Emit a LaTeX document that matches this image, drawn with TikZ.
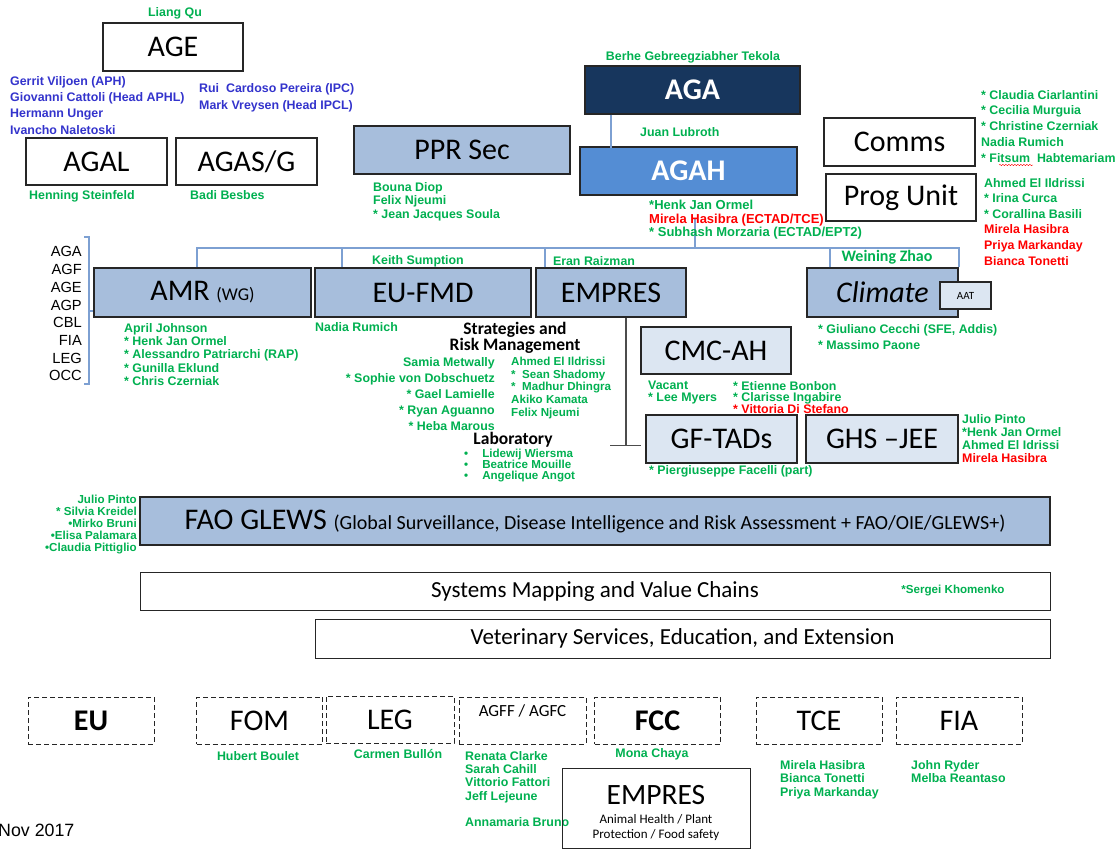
\documentclass[tikz,border=0pt]{standalone}
\usepackage{fontspec}
\setmainfont{Carlito}
\newfontfamily\arialfont{Liberation Sans}
\usetikzlibrary{positioning}
\usetikzlibrary{decorations,decorations.pathmorphing}
\usepackage{xcolor}
\definecolor{grn}{RGB}{0,176,80}
\definecolor{nameblue}{RGB}{51,51,204}
\definecolor{boxblue}{RGB}{167,190,220}
\definecolor{midblue}{RGB}{84,141,212}
\definecolor{navy}{RGB}{23,54,93}
\definecolor{paleblue}{RGB}{220,230,242}
\definecolor{linkblue}{RGB}{125,160,210}
\newcommand{\fsz}[2]{\fontsize{#1}{#2}\selectfont}

\begin{document}
\begin{tikzpicture}[x=1pt,y=-1pt,
  bbox/.style={draw=black!85,line width=1.3pt,inner sep=0,font=\fsz{30}{32}},
  dbox/.style={bbox,line width=1pt,dash pattern=on 5pt off 3pt},
  link/.style={draw=linkblue,line width=1.2pt},
  tline/.style={draw=black!70,line width=1.4pt},
  nm/.style={font=\arialfont\bfseries\fsz{12.4}{#1},text=grn,align=left,inner sep=0,anchor=north west},
  nm/.default=13.5,
  nmr/.style={nm=#1,align=right,anchor=north east},
  nmr/.default=16,
  nms/.style={nm=#1,font=\arialfont\bfseries\fsz{11.6}{#1}},
  nms/.default=12,
  head/.style={font=\bfseries\fsz{17.5}{15},align=center,inner sep=0}]
\useasboundingbox (0,0) rectangle (1120,850);

% top left
\node[bbox,minimum width=140,minimum height=48] (age) at (173,47) {AGE};
\node[bbox,minimum width=141,minimum height=47] (agal) at (96.5,161.5) {AGAL};
\node[bbox,minimum width=141,minimum height=47] (agas) at (246.5,161.5) {AGAS/G};
\node[nm,anchor=center] (liang) at (175,13) {Liang Qu};
\node[nm=16.3,text=nameblue] (agenames) at (10,76) {Gerrit Viljoen (APH)\\Giovanni Cattoli (Head APHL)\\Hermann Unger\\Ivancho Naletoski};
\node[nm=17,text=nameblue] (ipcnames) at (199,83) {Rui~ Cardoso Pereira (IPC)\\Mark Vreysen (Head IPCL)};
\node[nm] (henning) at (29,190) {Henning Steinfeld};
\node[nm] (badi) at (190,190) {Badi Besbes};

% ppr, aga, agah
\node[bbox,fill=boxblue,minimum width=216,minimum height=48] (pprsec) at (462,150) {PPR Sec};
\node[nm] (pprnames) at (373,182) {Bouna Diop\\Felix Njeumi\\* Jean Jacques Soula};
\node[bbox,fill=navy,text=white,font=\bfseries\fsz{30}{32},minimum width=215,minimum height=48] (aga) at (692.5,90) {AGA};
\node[bbox,fill=midblue,text=white,font=\bfseries\fsz{30}{32},minimum width=217,minimum height=48] (agah) at (688.5,171) {AGAH};
\node[nm,anchor=center] (berhe) at (693,57) {Berhe Gebreegziabher Tekola};
\node[nm] (juan) at (640,127) {Juan Lubroth};
\draw[link] ([xshift=-81.5]aga.south) -- +(0,33);
\draw[link] ([xshift=6.5,yshift=-22]agah.south) -- +(0,31) coordinate (hub);
\node[nm,font=\arialfont\bfseries\fsz{13}{13.5}] (agahnames) at (649,200) {*Henk Jan Ormel\\\textcolor{red}{Mirela Hasibra (ECTAD/TCE)}\\* Subhash Morzaria (ECTAD/EPT2)};

% comms, prog unit
\node[bbox,minimum width=151,minimum height=48] (comms) at (899.5,142) {Comms};
\node[bbox,minimum width=150,minimum height=47] (progunit) at (901,197.5) {Prog Unit};
\node[nm=15.8] (commsnames) at (981,90) {* Claudia Ciarlantini\\* Cecilia Murguia\\* Christine Czerniak\\Nadia Rumich\\* Fitsum~ Habtemariam};
\draw[red,decorate,decoration={snake,amplitude=0.7pt,segment length=3pt}] (999,165) -- (1033,165);
\node[nm=15.6] (prognames) at (984,178) {Ahmed El Ildrissi\\* Irina Curca\\* Corallina Basili\\\textcolor{red}{Mirela Hasibra}\\\textcolor{red}{Priya Markanday}\\\textcolor{red}{Bianca Tonetti}};

% second row
\node[font=\arialfont\fsz{14.7}{17.7},align=right,inner sep=0,anchor=north east] (divs) at (82,246.5) {AGA\\AGF\\AGE\\AGP\\CBL\\FIA\\LEG\\OCC};
\draw[link] (84,237) -- (89,237) -- (89,384) -- (84,384);
\draw[link] (89,311) -- (93,311);
\node[bbox,fill=boxblue,minimum width=217,minimum height=49] (amr) at (202.5,292.5) {AMR {\fsz{18}{20}(WG)}};
\node[bbox,fill=boxblue,minimum width=216,minimum height=49] (eufmd) at (423,292.5) {EU-FMD};
\node[bbox,fill=boxblue,minimum width=150,minimum height=49] (empres) at (611,292.5) {EMPRES};
\node[bbox,fill=boxblue,font=\itshape\fsz{30}{32},minimum width=151,minimum height=49] (climate) at (882.5,292.5) {Climate};
\node[bbox,fill=paleblue,font=\fsz{11}{12},line width=1.1pt,minimum width=51,minimum height=27] (aat) at (965.5,295.5) {AAT};
\coordinate (busL) at (197,248);
\coordinate (busR) at (959,248);
\draw[link] (busL) -- (busR);
\foreach \n/\dx in {amr/-5.5,eufmd/-81,empres/-66,climate/-52.5,climate/76.5}
  \draw[link] ([xshift=\dx]\n.north) -- +(0,-20);
\node[nm,anchor=center] (keith) at (418,261) {Keith Sumption};
\node[nm,anchor=center] (eran) at (594,261) {Eran Raizman};
\node[font=\bfseries\fsz{16}{18},text=grn,inner sep=0] (weining) at (887,257) {Weining Zhao};

\node[nm=13.4] (amrnames) at (124,323) {April Johnson\\* Henk Jan Ormel\\* Alessandro Patriarchi (RAP)\\* Gunilla Eklund\\* Chris Czerniak};
\node[nm] (nadia) at (315,322) {Nadia Rumich};
\node[head] (strat) at (515,338) {Strategies and\\Risk Management};
\node[nmr=16] (stratleft) at (495,357) {Samia Metwally\\* Sophie von Dobschuetz\\* Gael Lamielle\\* Ryan Aguanno\\* Heba Marous};
\node[nms=12.6] (stratright) at (511,357) {Ahmed El Ildrissi\\*~ Sean Shadomy\\*~ Madhur Dhingra\\Akiko Kamata\\Felix Njeumi};
\node[head] (lab) at (513,440) {Laboratory};
\node[nms=11] (labnames) at (464,449) {\textbullet\hspace{14pt}Lidewij Wiersma\\\textbullet\hspace{14pt}Beatrice Mouille\\\textbullet\hspace{14pt}Angelique Angot};
\draw[tline] ([xshift=15]empres.south) -- +(0,128) coordinate (tee);
\draw[tline] ([xshift=-16]tee) -- ([xshift=15]tee);

\node[nm=16] (climnames) at (818,324) {* Giuliano Cecchi (SFE, Addis)\\* Massimo Paone};
\node[bbox,fill=paleblue,minimum width=150,minimum height=47] (cmcah) at (716,350.5) {CMC-AH};
\node[nm=12] (cmcleft) at (648,381) {Vacant\\* Lee Myers};
\node[nm=11.8] (cmcright) at (733,381) {* Etienne Bonbon\\* Clarisse Ingabire\\\textcolor{red}{* Vittoria Di Stefano}};
\node[bbox,fill=paleblue,minimum width=151,minimum height=48] (gftads) at (721.5,439) {GF-TADs};
\node[bbox,fill=paleblue,minimum width=152,minimum height=48] (ghsjee) at (882,439) {GHS –JEE};
\node[nm] (facelli) at (649,465) {* Piergiuseppe Facelli (part)};
\node[nm=13] (ghsnames) at (962,414) {Julio Pinto\\*Henk Jan Ormel\\Ahmed El Idrissi\\\textcolor{red}{Mirela Hasibra}};

% bands
\node[bbox,fill=boxblue,minimum width=910,minimum height=48] (glews) at (595,521) {FAO GLEWS {\fsz{20}{22}(Global Surveillance, Disease Intelligence and Risk Assessment + FAO/OIE/GLEWS+)}};
\node[nms=12,align=right,anchor=north east] (glewsnames) at (137,495) {Julio Pinto\\* Silvia Kreidel\\\textbullet Mirko Bruni\\\textbullet Elisa Palamara\\\textbullet Claudia Pittiglio};
\node[bbox,line width=1pt,font=\fsz{23}{25},minimum width=910,minimum height=38] (sysmap) at (595,591) {Systems Mapping and Value Chains};
\node[nms,anchor=center] (sergei) at (953,591) {*Sergei Khomenko};
\node[bbox,line width=1pt,font=\fsz{23}{25},minimum width=735,minimum height=39] (vetserv) at (682.5,638.5) {Veterinary Services, Education, and Extension};

% partners
\foreach \n/\x/\t in {eu/91/\textbf{EU},fom/259.5/FOM,fcc/657.5/\textbf{FCC},tce/819/TCE,fia/959/FIA}
  \node[dbox,minimum width=126,minimum height=47] (\n) at (\x,720.5) {\t};
\node[dbox,minimum width=128,minimum height=47] (leg) at (390,719.5) {LEG};
\node[dbox,minimum width=127,minimum height=47] (agff) at (522.5,720.5) {};
\node[font=\fsz{17}{18},inner sep=0,below=8pt of agff.north] (agfftext) {AGFF / AGFC};
\node[nm,anchor=center] (hubert) at (258,756) {Hubert Boulet};
\node[nm,anchor=center] (carmen) at (398,754) {Carmen Bullón};
\node[nm,anchor=center] (mona) at (652,754) {Mona Chaya};
\node[nm=13.3] (agffnames) at (465,751) {Renata Clarke\\Sarah Cahill\\Vittorio Fattori\\Jeff Lejeune\\[13.3pt]Annamaria Bruno};
\node[nm=13.5] (tcenames) at (780,760) {Mirela Hasibra\\Bianca Tonetti\\Priya Markanday};
\node[nm=13] (fianames) at (911,760) {John Ryder\\Melba Reantaso};
\node[bbox,line width=1pt,minimum width=188,minimum height=80] (empresb) at (656,808) {};
\node[font=\fsz{29.5}{30},inner sep=0] (empresbt) at (656,795) {EMPRES};
\node[font=\fsz{13}{15},align=center,inner sep=0] (empresbs) at (656,828) {Animal Health / Plant\\Protection / Food safety};
\node[font=\arialfont\fsz{17.8}{20},inner sep=0,anchor=west] (date) at (-2,830) {Nov 2017};
\end{tikzpicture}
\end{document}
